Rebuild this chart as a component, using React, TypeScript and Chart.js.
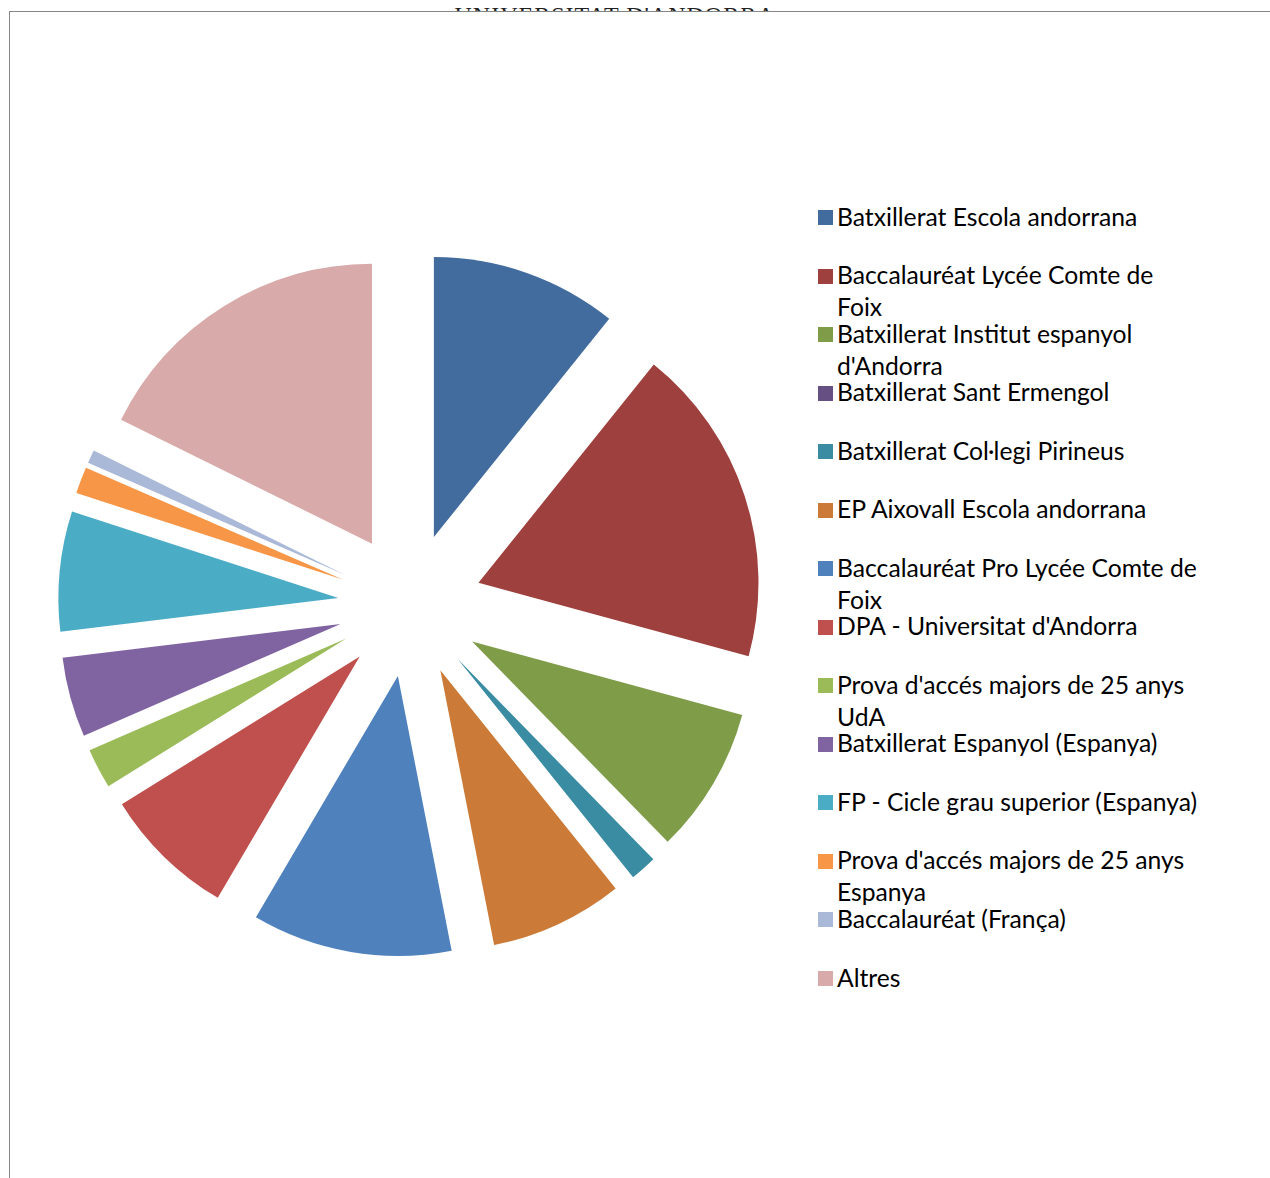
import React, { useEffect, useRef } from "react";
import { Chart, registerables } from "chart.js";

Chart.register(...registerables);

const headerText = "UNIVERSITAT D'ANDORRA";

const categories = [
  "Batxillerat Escola andorrana",
  "Baccalauréat Lycée Comte de Foix",
  "Batxillerat Institut espanyol d'Andorra",
  "Batxillerat Sant Ermengol",
  "Batxillerat Col·legi Pirineus",
  "EP Aixovall Escola andorrana",
  "Baccalauréat Pro Lycée Comte de Foix",
  "DPA - Universitat d'Andorra",
  "Prova d'accés majors de 25 anys UdA",
  "Batxillerat Espanyol (Espanya)",
  "FP - Cicle grau superior (Espanya)",
  "Prova d'accés majors de 25 anys Espanya",
  "Baccalauréat (França)",
  "Altres",
];

// legend text as wrapped in the reference
const legendLines = [
  "Batxillerat Escola andorrana",
  "Baccalauréat Lycée Comte de\nFoix",
  "Batxillerat Institut espanyol\nd'Andorra",
  "Batxillerat Sant Ermengol",
  "Batxillerat Col·legi Pirineus",
  "EP Aixovall Escola andorrana",
  "Baccalauréat Pro Lycée Comte de\nFoix",
  "DPA - Universitat d'Andorra",
  "Prova d'accés majors de 25 anys\nUdA",
  "Batxillerat Espanyol (Espanya)",
  "FP - Cicle grau superior (Espanya)",
  "Prova d'accés majors de 25 anys\nEspanya",
  "Baccalauréat (França)",
  "Altres",
];

const values = [14, 24, 11, 0, 2, 10, 15, 10, 3, 6, 9, 2, 1, 23];

const colors = [
  "#426B9E",
  "#9E403D",
  "#7F9C49",
  "#664F83",
  "#3A8CA3",
  "#CB7A37",
  "#4F81BD",
  "#C0504D",
  "#9BBB59",
  "#8064A2",
  "#4BACC6",
  "#F79646",
  "#AAB9D7",
  "#D9AAAA",
];

const EXPLODE = 72;
const PIE_RADIUS = 280;
const CANVAS_SIZE = 720;
const PIE_CX = 409;
const PIE_CY = 604;

const explodePlugin = {
  id: "explodeSlices",
  beforeDatasetDraw(chart: any, args: any) {
    const ctx = chart.ctx;
    args.meta.data.forEach((arc: any) => {
      const { startAngle, endAngle } = arc.getProps(["startAngle", "endAngle"], true);
      if (!(endAngle - startAngle > 0)) return;
      const mid = (startAngle + endAngle) / 2;
      ctx.save();
      ctx.translate(Math.cos(mid) * EXPLODE, Math.sin(mid) * EXPLODE);
      arc.draw(ctx, chart.chartArea);
      ctx.restore();
    });
    return false;
  },
};

function PieChart() {
  const ref = useRef<HTMLCanvasElement | null>(null);
  useEffect(() => {
    if (!ref.current) return;
    const chart = new Chart(ref.current, {
      type: "pie",
      data: {
        labels: categories,
        datasets: [
          {
            data: values,
            backgroundColor: colors,
            borderWidth: 0,
            radius: PIE_RADIUS,
          } as any,
        ],
      },
      options: {
        responsive: false,
        animation: false,
        events: [],
        layout: { padding: 0 },
        plugins: {
          legend: { display: false },
          tooltip: { enabled: false },
          title: { display: false },
        },
      },
      plugins: [explodePlugin as any],
    });
    return () => chart.destroy();
  }, []);
  return (
    <canvas
      ref={ref}
      width={CANVAS_SIZE}
      height={CANVAS_SIZE}
      style={{
        position: "absolute",
        left: PIE_CX - CANVAS_SIZE / 2 - 9,
        top: PIE_CY - CANVAS_SIZE / 2 - 11,
        width: CANVAS_SIZE,
        height: CANVAS_SIZE,
      }}
    />
  );
}

function Legend() {
  const firstY = 217;
  const step = 58.54;
  return (
    <>
      {legendLines.map((txt, i) => {
        const yc = firstY + step * i;
        return (
          <React.Fragment key={i}>
            <div
              style={{
                position: "absolute",
                left: 817 - 9,
                top: yc - 8 - 11,
                width: 15,
                height: 15,
                background: colors[i],
              }}
            />
            <div
              style={{
                position: "absolute",
                left: 836 - 9,
                top: yc - 17.5 - 11,
                fontFamily: "Lato, 'Noto Sans', sans-serif",
                fontSize: 24.7,
                lineHeight: "32px",
                whiteSpace: "pre",
                color: "#000",
              }}
            >
              {txt}
            </div>
          </React.Fragment>
        );
      })}
    </>
  );
}

export default function App() {
  return (
    <div
      style={{
        position: "absolute",
        left: 0,
        top: 0,
        width: 1270,
        height: 1178,
        overflow: "hidden",
        background: "#fff",
      }}
    >
      <div
        style={{
          position: "absolute",
          left: 0,
          width: 1230,
          top: 3,
          textAlign: "center",
          fontFamily: "'Liberation Serif', 'DejaVu Serif', serif",
          fontSize: 24,
          lineHeight: "24px",
          letterSpacing: 1,
          color: "#222",
        }}
      >
        {headerText}
      </div>
      <div
        style={{
          position: "absolute",
          left: 9,
          top: 11,
          width: 1270,
          height: 1178,
          background: "#fff",
          borderTop: "1px solid #868686",
          borderLeft: "1px solid #868686",
        }}
      >
        <PieChart />
        <Legend />
      </div>
    </div>
  );
}
